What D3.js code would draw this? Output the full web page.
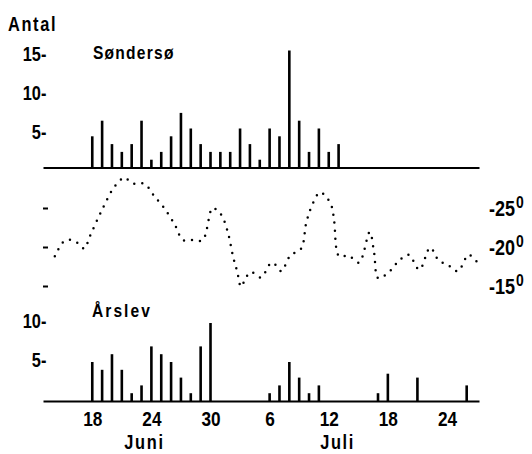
<!DOCTYPE html>
<html>
<head>
<meta charset="utf-8">
<script src="https://cdn.jsdelivr.net/npm/d3@7/dist/d3.min.js"></script>
<style>
  html, body { margin: 0; padding: 0; background: #fff; }
  svg { display: block; }
  text { font-family: "Liberation Sans", Arial, sans-serif; font-weight: bold; fill: #000; }
</style>
</head>
<body>
<svg id="chart" width="532" height="454"></svg>
<script>
// ---- data (day number: June days as-is, July = 30 + day) ----
const topDays   = [18,19,20,21,22,23,24,25,26,27,28,29,30,31,32,33,34,35,36,37,38,39,40,41,42,43];
const topCounts = [ 4, 6, 3, 2, 3, 6, 1, 2, 4, 7, 5, 3, 2, 2, 2, 5, 3, 1, 5, 4,15, 6, 2, 5, 2, 3];

const botDays   = [18,19,20,21,22,23,24,25,26,27,28,29,30, 36,37,38,39,40,41, 47,48,51,56];
const botCounts = [ 5, 4, 6, 4, 1, 2, 7, 6, 5, 3, 1, 7,10,  1, 2, 5, 3, 1, 2,  1,3.5, 3, 2];

const tempDays = [14.2,15.2,16.2,17.2,17.7,19.0,20.3,21.3,21.8,22.3,23.3,24.3,25.3,26.4,27.2,28.2,29.2,
                  30.2,30.75,31.2,31.8,32.3,32.7,33.1,33.6,34.1,35.1,36.2,36.7,37.2,38.1,39.2,39.7,40.2,
                  41.1,41.7,42.3,42.55,43.06,44.0,45.06,46.16,46.6,47.03,48.2,49.1,50.1,51.2,52.3,53.2,
                  54.0,55.1,56.2,57.1];
const tempValues = [18.8,20.8,20.8,19.8,21.2,24.8,27.8,28.9,28.4,28.1,28.1,26.5,25.0,22.8,20.9,20.9,20.9,
                    25.0,24.6,23.9,21.7,18.7,16.9,14.9,16.1,16.8,16.1,18.0,17.6,16.9,18.9,19.8,23.0,25.0,
                    27.0,26.5,25.2,23.3,18.8,18.9,18.0,21.9,19.3,16.0,16.9,18.2,19.0,17.1,19.9,18.2,
                    17.8,16.9,19.0,18.0];

const tickDays   = [18,24,30,36,42,48,54];
const tickLabels = ["18","24","30","6","12","18","24"];
const monthNames = ["Juni","Juli"];
const monthDays  = [23.3,42.9];
const topTicks   = [5,10,15];
const botTicks   = [5,10];
const tempTicks  = [15,20,25];

// ---- scales ----
const svg = d3.select("#chart");
const x = d3.scaleLinear().domain([13, 57.25]).range([43, 479]);
const yTop = d3.scaleLinear().domain([0, 15]).range([167.5, 50.5]);
const yBot = d3.scaleLinear().domain([0, 10]).range([401, 323]);
const yT = d3.scaleLinear().domain([15, 25]).range([286, 208]);

const FONT = '"Liberation Sans", Arial, sans-serif';
const NARROW = "scale(0.82,1)";
function styleAxis(g, size) {
  g.attr("font-family", FONT).attr("font-size", size).attr("font-weight", "bold");
  g.selectAll("text").attr("fill", "#000").attr("transform", NARROW);
}
function label(px, py, size, ls, str) {
  svg.append("text")
    .attr("transform", `translate(${px},${py}) ${NARROW}`)
    .attr("font-size", size)
    .attr("letter-spacing", ls)
    .text(str);
}

// ---- top panel (Søndersø) ----
const gTopBase = svg.append("g").attr("transform", `translate(0,${yTop(0)})`)
  .call(d3.axisBottom(x).tickValues([]).tickSizeOuter(0));
gTopBase.select(".domain").attr("stroke", "#000").attr("stroke-width", 2);

svg.append("g").selectAll("rect").data(topDays).join("rect")
  .attr("x", (d) => x(d) - 1.3)
  .attr("width", 2.6)
  .attr("y", (d, i) => yTop(topCounts[i]))
  .attr("height", (d, i) => yTop(0) - yTop(topCounts[i]))
  .attr("fill", "#000");

const gTopY = svg.append("g").attr("transform", "translate(48,0)")
  .call(d3.axisLeft(yTop).tickValues(topTicks).tickSize(0).tickPadding(2).tickFormat(d => d + "-"));
gTopY.select(".domain").remove();
styleAxis(gTopY, 20);
gTopY.selectAll("text").attr("dy", "0.5em");

label(8, 30.5, 20, 2, "Antal");
label(93, 59, 19, 1.5, "Søndersø");

// ---- temperature panel ----
const line = d3.line()
  .x((d, i) => x(tempDays[i]))
  .y((d, i) => yT(tempValues[i]))
  .curve(d3.curveCatmullRom.alpha(0.5));
svg.append("path").datum(tempValues)
  .attr("d", line)
  .attr("fill", "none")
  .attr("stroke", "#000")
  .attr("stroke-width", 2.5)
  .attr("stroke-linecap", "round")
  .attr("stroke-dasharray", "0 8");

const gTL = svg.append("g").attr("transform", "translate(48,0)")
  .call(d3.axisLeft(yT).tickValues(tempTicks).tickSize(5).tickFormat(""));
gTL.select(".domain").remove();
gTL.selectAll(".tick line").attr("stroke", "#000").attr("stroke-width", 2);

const gTR = svg.append("g").attr("transform", "translate(489,0)")
  .call(d3.axisRight(yT).tickValues(tempTicks).tickSize(0).tickPadding(0));
gTR.select(".domain").remove();
styleAxis(gTR, 22);
gTR.selectAll(".tick text").text(null).attr("dy", "0.36em")
  .each(function (d) {
    const t = d3.select(this);
    t.append("tspan").text("-" + d);
    t.append("tspan").attr("font-size", 17).attr("dx", 1).attr("dy", "-0.5em").text("0");
  });

// ---- bottom panel (Årslev) ----
svg.append("g").selectAll("rect").data(botDays).join("rect")
  .attr("x", (d) => x(d) - 1.3)
  .attr("width", 2.6)
  .attr("y", (d, i) => yBot(botCounts[i]))
  .attr("height", (d, i) => yBot(0) - yBot(botCounts[i]))
  .attr("fill", "#000");

const gBotX = svg.append("g").attr("transform", `translate(0,${yBot(0)})`)
  .call(d3.axisBottom(x).tickValues(tickDays).tickSize(0).tickSizeOuter(0).tickPadding(10)
    .tickFormat((d, i) => tickLabels[i]));
gBotX.select(".domain").attr("stroke", "#000").attr("stroke-width", 2);
styleAxis(gBotX, 21);

const gBotY = svg.append("g").attr("transform", "translate(48,0)")
  .call(d3.axisLeft(yBot).tickValues(botTicks).tickSize(0).tickPadding(2).tickFormat(d => d + "-"));
gBotY.select(".domain").remove();
styleAxis(gBotY, 20);
gBotY.selectAll("text").attr("dy", "0.22em");

label(92, 317, 19, 2.5, "Årslev");

svg.append("g").selectAll("text").data(monthNames).join("text")
  .attr("transform", (d, i) => `translate(${x(monthDays[i])},449) ${NARROW}`)
  .attr("text-anchor", "middle")
  .attr("font-size", 20)
  .attr("letter-spacing", 2)
  .text(d => d);
</script>
</body>
</html>
